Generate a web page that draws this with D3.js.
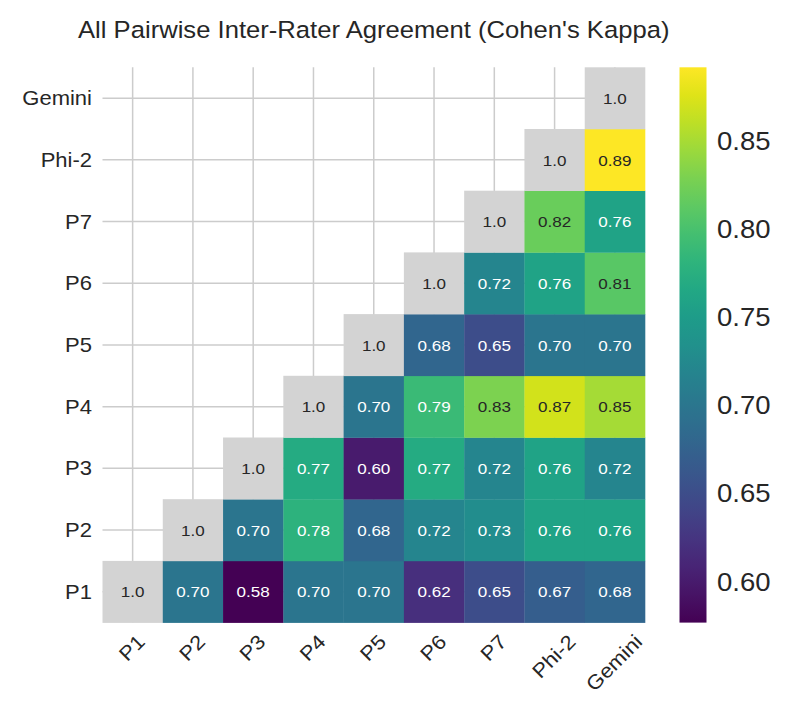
<!DOCTYPE html>
<html>
<head>
<meta charset="utf-8">
<script src="https://cdn.jsdelivr.net/npm/d3@7"></script>
<style>
  body { margin: 0; background: #fff; }
  svg { font-family: "Liberation Sans", Arial, Helvetica, sans-serif; }
</style>
</head>
<body>
<svg id="chart" width="793" height="719"></svg>
<script>
const raters = ["P1", "P2", "P3", "P4", "P5", "P6", "P7", "Phi-2", "Gemini"];
// Each row: kappa of row rater with raters from the diagonal rightwards (diagonal first = 1.0)
const rowP1     = [1.0, 0.70, 0.577, 0.70, 0.70, 0.62, 0.65, 0.67, 0.68];
const rowP2     = [1.0, 0.70, 0.78, 0.68, 0.72, 0.73, 0.76, 0.76];
const rowP3     = [1.0, 0.77, 0.60, 0.77, 0.72, 0.76, 0.72];
const rowP4     = [1.0, 0.70, 0.79, 0.83, 0.87, 0.85];
const rowP5     = [1.0, 0.68, 0.65, 0.70, 0.70];
const rowP6     = [1.0, 0.72, 0.76, 0.81];
const rowP7     = [1.0, 0.82, 0.76];
const rowPhi2   = [1.0, 0.892];
const rowGemini = [1.0];
const rows = [rowP1, rowP2, rowP3, rowP4, rowP5, rowP6, rowP7, rowPhi2, rowGemini];
const colorTicks = [0.60, 0.65, 0.70, 0.75, 0.80, 0.85];
const title = "All Pairwise Inter-Rater Agreement (Cohen's Kappa)";

const SX = 1.1; // horizontal stretch of glyphs to match reference metrics

const cells = [];
rows.forEach((r, i) => r.forEach((v, k) => {
  const j = i + k;
  cells.push({ row: raters[i], col: raters[j], v, diag: i === j });
}));
const offVals = cells.filter(c => !c.diag).map(c => c.v);
const vmin = d3.min(offVals), vmax = d3.max(offVals);

const svg = d3.select("#chart");
const L = 102.5, R = 645, T = 67.3, B = 622.6;

const x = d3.scaleBand().domain(raters).range([L, R]);
const y = d3.scaleBand().domain(raters.slice().reverse()).range([T, B]);
const color = d3.scaleSequential(d3.interpolateViridis).domain([vmin, vmax]);

// grid
const grid = svg.append("g").attr("stroke", "#cccccc").attr("stroke-width", 1.5);
raters.forEach(r => {
  grid.append("line").attr("x1", x(r) + x.bandwidth() / 2).attr("x2", x(r) + x.bandwidth() / 2)
    .attr("y1", T).attr("y2", B);
  grid.append("line").attr("y1", y(r) + y.bandwidth() / 2).attr("y2", y(r) + y.bandwidth() / 2)
    .attr("x1", L).attr("x2", R);
});

// cells
svg.append("g").selectAll("rect").data(cells).join("rect")
  .attr("x", d => x(d.col)).attr("y", d => y(d.row))
  .attr("width", x.bandwidth() + 0.3).attr("height", y.bandwidth() + 0.3)
  .attr("fill", d => d.diag ? "#d3d3d3" : color(d.v));

function lum(c) {
  const rgb = d3.rgb(c);
  const f = u => { u /= 255; return u <= 0.03928 ? u / 12.92 : Math.pow((u + 0.055) / 1.055, 2.4); };
  return 0.2126 * f(rgb.r) + 0.7152 * f(rgb.g) + 0.0722 * f(rgb.b);
}

svg.append("g").selectAll("text").data(cells).join("text")
  .attr("transform", d => `translate(${x(d.col) + x.bandwidth() / 2},${y(d.row) + y.bandwidth() / 2}) scale(${SX},1)`)
  .attr("text-anchor", "middle").attr("dominant-baseline", "central")
  .attr("font-size", 15.5)
  .attr("fill", d => d.diag ? "#262626" : (lum(color(d.v)) > 0.408 ? "#262626" : "#ffffff"))
  .text(d => d.diag ? d.v.toFixed(1) : d3.format(".2f")(d.v));

// y labels
svg.append("g").selectAll("text").data(raters).join("text")
  .attr("transform", d => `translate(92,${y(d) + y.bandwidth() / 2}) scale(${SX},1)`)
  .attr("text-anchor", "end").attr("dominant-baseline", "central")
  .attr("font-size", 20).attr("fill", "#262626").text(d => d);

// x labels rotated 45
const XFS = 20;
const xl = svg.append("g").selectAll("text").data(raters).join("text")
  .attr("text-anchor", "middle").attr("dominant-baseline", "central")
  .attr("font-size", XFS).attr("fill", "#262626").text(d => d);
xl.each(function (d) {
  const w = this.getComputedTextLength() * SX;
  const capH = XFS * 0.716;
  const cx = x(d) + x.bandwidth() / 2 - 1;
  const cy = 633 + (w + capH) * 0.3536;
  d3.select(this).attr("transform", `translate(${cx},${cy}) rotate(-45) scale(${SX},1)`);
});

// title
svg.append("text")
  .attr("transform", `translate(${(L + R) / 2},38.3) scale(1.09,1)`)
  .attr("text-anchor", "middle")
  .attr("font-size", 23.5).attr("fill", "#262626").text(title);

// colorbar
const cbX = 679.5, cbW = 27;
const cyS = d3.scaleLinear().domain([vmin, vmax]).range([B, T]);
const defs = svg.append("defs");
const grad = defs.append("linearGradient").attr("id", "cbgrad")
  .attr("x1", 0).attr("y1", 1).attr("x2", 0).attr("y2", 0);
d3.range(0, 1.0001, 0.05).forEach(t => {
  grad.append("stop").attr("offset", t).attr("stop-color", d3.interpolateViridis(t));
});
svg.append("rect").attr("x", cbX).attr("y", T).attr("width", cbW).attr("height", B - T)
  .attr("fill", "url(#cbgrad)");
svg.append("g").selectAll("text").data(colorTicks).join("text")
  .attr("transform", d => `translate(${cbX + cbW + 10.5},${cyS(d)}) scale(${SX},1)`)
  .attr("dominant-baseline", "central").attr("font-size", 25).attr("fill", "#262626")
  .text(d => d3.format(".2f")(d));
</script>
</body>
</html>
